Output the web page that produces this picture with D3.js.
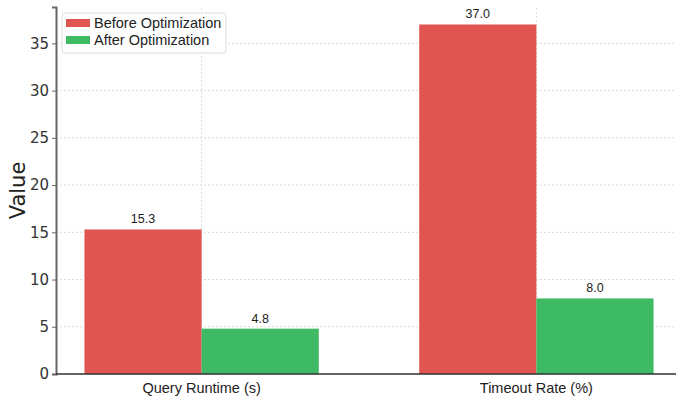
<!DOCTYPE html>
<html>
<head>
<meta charset="utf-8">
<script src="https://cdn.jsdelivr.net/npm/d3@7"></script>
<style>
  body { margin: 0; background: #fff; }
  svg { display: block; font-family: "Liberation Sans", Arial, sans-serif; }
</style>
</head>
<body>
<svg id="chart"></svg>
<script>
// données du graphique
const categories = ['Query Runtime (s)', 'Timeout Rate (%)']
const seriesNames = ['Before Optimization', 'After Optimization']
const beforeValues = [15.3, 37.0]
const afterValues = [4.8, 8.0]
const yTicks = [0, 5, 10, 15, 20, 25, 30, 35]

const colors = ['#e05552', '#3dba63']

const width = 676, height = 401
const margin = {top: 7, right: -6, bottom: 27, left: 56}

const svg = d3.select('#chart').attr('width', width).attr('height', height)

// échelles
const x = d3.scaleLinear()
  .domain([-0.435, 1.435])
  .range([margin.left, width - margin.right])

const y = d3.scaleLinear()
  .domain([0, 38.85])
  .range([height - margin.bottom, margin.top])

const barW = x(0.35) - x(0)

// grille
svg.append('g')
  .selectAll('line')
  .data(yTicks)
  .enter()
  .append('line')
  .attr('x1', margin.left).attr('x2', width)
  .attr('y1', d => y(d)).attr('y2', d => y(d))
  .attr('stroke', '#dadada').attr('stroke-dasharray', '2,2').attr('stroke-width', 1)

svg.append('g')
  .selectAll('line')
  .data(categories)
  .enter()
  .append('line')
  .attr('x1', (d, i) => x(i)).attr('x2', (d, i) => x(i))
  .attr('y1', y(0)).attr('y2', margin.top)
  .attr('stroke', '#dadada').attr('stroke-dasharray', '2,2').attr('stroke-width', 1)

// barres
const series = [beforeValues, afterValues]
series.forEach((vals, s) => {
  const offset = s === 0 ? -0.35 : 0
  svg.append('g')
    .selectAll('rect')
    .data(vals)
    .enter()
    .append('rect')
    .attr('x', (d, i) => x(i + offset))
    .attr('width', barW)
    .attr('y', d => y(d))
    .attr('height', d => y(0) - y(d))
    .attr('fill', colors[s])

  svg.append('g')
    .selectAll('text')
    .data(vals)
    .enter()
    .append('text')
    .attr('x', (d, i) => x(i + offset) + barW / 2)
    .attr('y', d => y(d) - 6)
    .attr('text-anchor', 'middle')
    .attr('font-size', 12.5)
    .attr('fill', '#222')
    .text(d => d.toFixed(1))
})

// axe y
const yAxis = d3.axisLeft(y).tickValues(yTicks).tickSize(4).tickPadding(3)
const gy = svg.append('g')
  .attr('transform', `translate(${margin.left},0)`)
  .call(yAxis)
gy.select('.domain').attr('stroke', '#666').attr('stroke-width', 2)
gy.selectAll('.tick line').attr('stroke', '#666')
gy.selectAll('.tick text').attr('font-size', 15).attr('fill', '#333')
  .attr('font-family', '"DejaVu Sans", sans-serif')

// axe x
svg.append('line')
  .attr('x1', margin.left).attr('x2', width)
  .attr('y1', y(0)).attr('y2', y(0))
  .attr('stroke', '#333').attr('stroke-width', 1.5)

svg.append('g')
  .selectAll('text')
  .data(categories)
  .enter()
  .append('text')
  .attr('x', (d, i) => x(i))
  .attr('y', y(0) + 19)
  .attr('text-anchor', 'middle')
  .attr('font-size', 14.5)
  .attr('fill', '#222')
  .text(d => d)

// titre axe y
svg.append('text')
  .attr('transform', `translate(25,${(y(0) + margin.top) / 2}) rotate(-90)`)
  .attr('text-anchor', 'middle')
  .attr('font-size', 21)
  .attr('font-family', '"DejaVu Sans", sans-serif')
  .attr('fill', '#222')
  .text('Value')

// légende
const legend = svg.append('g').attr('transform', 'translate(62,13)')
legend.append('rect')
  .attr('width', 164).attr('height', 40).attr('rx', 3)
  .attr('fill', '#fff').attr('stroke', '#ddd')
seriesNames.forEach((name, i) => {
  legend.append('rect')
    .attr('x', 4).attr('y', 6 + i * 17)
    .attr('width', 24).attr('height', 8)
    .attr('fill', colors[i])
  legend.append('text')
    .attr('x', 32).attr('y', 15 + i * 17)
    .attr('font-size', 14.5)
    .attr('fill', '#222')
    .text(name)
})
</script>
</body>
</html>
